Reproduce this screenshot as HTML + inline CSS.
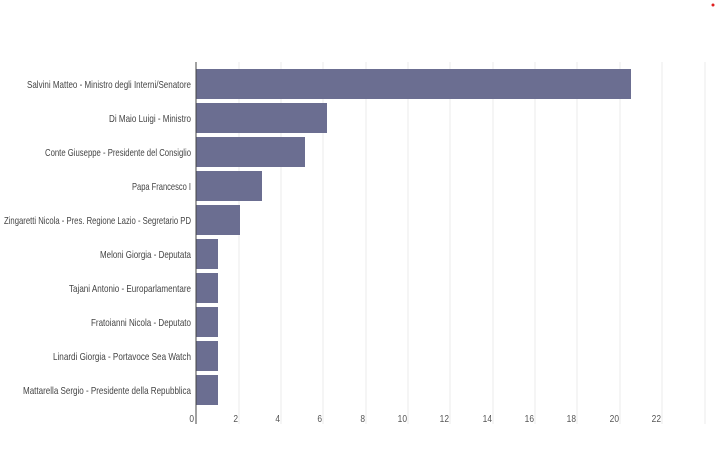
<!DOCTYPE html>
<html><head><style>body{margin:0;background:#fff}svg{display:block}</style></head>
<body>
<svg width="717" height="449" xmlns="http://www.w3.org/2000/svg" font-family="Liberation Sans, sans-serif">
<circle cx="713" cy="5" r="1.5" fill="#e02020"/>
<g stroke="#ebebeb" stroke-width="1">
<line x1="239" y1="62" x2="239" y2="424"/><line x1="281" y1="62" x2="281" y2="424"/>
<line x1="323" y1="62" x2="323" y2="424"/><line x1="366" y1="62" x2="366" y2="424"/>
<line x1="408" y1="62" x2="408" y2="424"/><line x1="450" y1="62" x2="450" y2="424"/>
<line x1="493" y1="62" x2="493" y2="424"/><line x1="535" y1="62" x2="535" y2="424"/>
<line x1="577" y1="62" x2="577" y2="424"/><line x1="620" y1="62" x2="620" y2="424"/>
<line x1="662" y1="62" x2="662" y2="424"/><line x1="705" y1="62" x2="705" y2="424"/>
</g>
<g fill="#6b6e91">
<rect x="196" y="69" width="435" height="30"/>
<rect x="196" y="103" width="131" height="30"/>
<rect x="196" y="137" width="109" height="30"/>
<rect x="196" y="171" width="66" height="30"/>
<rect x="196" y="205" width="44" height="30"/>
<rect x="196" y="239" width="22" height="30"/>
<rect x="196" y="273" width="22" height="30"/>
<rect x="196" y="307" width="22" height="30"/>
<rect x="196" y="341" width="22" height="30"/>
<rect x="196" y="375" width="22" height="30"/>
</g>
<line x1="196" y1="62" x2="196" y2="424" stroke="#444" stroke-width="1"/>
<g fill="#444" font-size="10.5" lengthAdjust="spacingAndGlyphs">
<text x="27" y="88" textLength="164" lengthAdjust="spacingAndGlyphs">Salvini Matteo - Ministro degli Interni/Senatore</text>
<text x="109" y="122" textLength="82" lengthAdjust="spacingAndGlyphs">Di Maio Luigi - Ministro</text>
<text x="45" y="156" textLength="146" lengthAdjust="spacingAndGlyphs">Conte Giuseppe - Presidente del Consiglio</text>
<text x="132" y="190" textLength="59" lengthAdjust="spacingAndGlyphs">Papa Francesco I</text>
<text x="4" y="224" textLength="187" lengthAdjust="spacingAndGlyphs">Zingaretti Nicola - Pres. Regione Lazio - Segretario PD</text>
<text x="100" y="258" textLength="91" lengthAdjust="spacingAndGlyphs">Meloni Giorgia - Deputata</text>
<text x="69" y="292" textLength="122" lengthAdjust="spacingAndGlyphs">Tajani Antonio - Europarlamentare</text>
<text x="91" y="326" textLength="100" lengthAdjust="spacingAndGlyphs">Fratoianni Nicola - Deputato</text>
<text x="53" y="360" textLength="138" lengthAdjust="spacingAndGlyphs">Linardi Giorgia - Portavoce Sea Watch</text>
<text x="23" y="394" textLength="168" lengthAdjust="spacingAndGlyphs">Mattarella Sergio - Presidente della Repubblica</text>
</g>
<g fill="#555" font-size="10.5" text-anchor="end">
<text transform="translate(194,422) scale(0.8,1)">0</text>
<text transform="translate(238,422) scale(0.8,1)">2</text>
<text transform="translate(280,422) scale(0.8,1)">4</text>
<text transform="translate(322,422) scale(0.8,1)">6</text>
<text transform="translate(365,422) scale(0.8,1)">8</text>
<text transform="translate(407,422) scale(0.8,1)">10</text>
<text transform="translate(449,422) scale(0.8,1)">12</text>
<text transform="translate(492,422) scale(0.8,1)">14</text>
<text transform="translate(534,422) scale(0.8,1)">16</text>
<text transform="translate(576,422) scale(0.8,1)">18</text>
<text transform="translate(619,422) scale(0.8,1)">20</text>
<text transform="translate(661,422) scale(0.8,1)">22</text>
</g>
</svg>
</body></html>
